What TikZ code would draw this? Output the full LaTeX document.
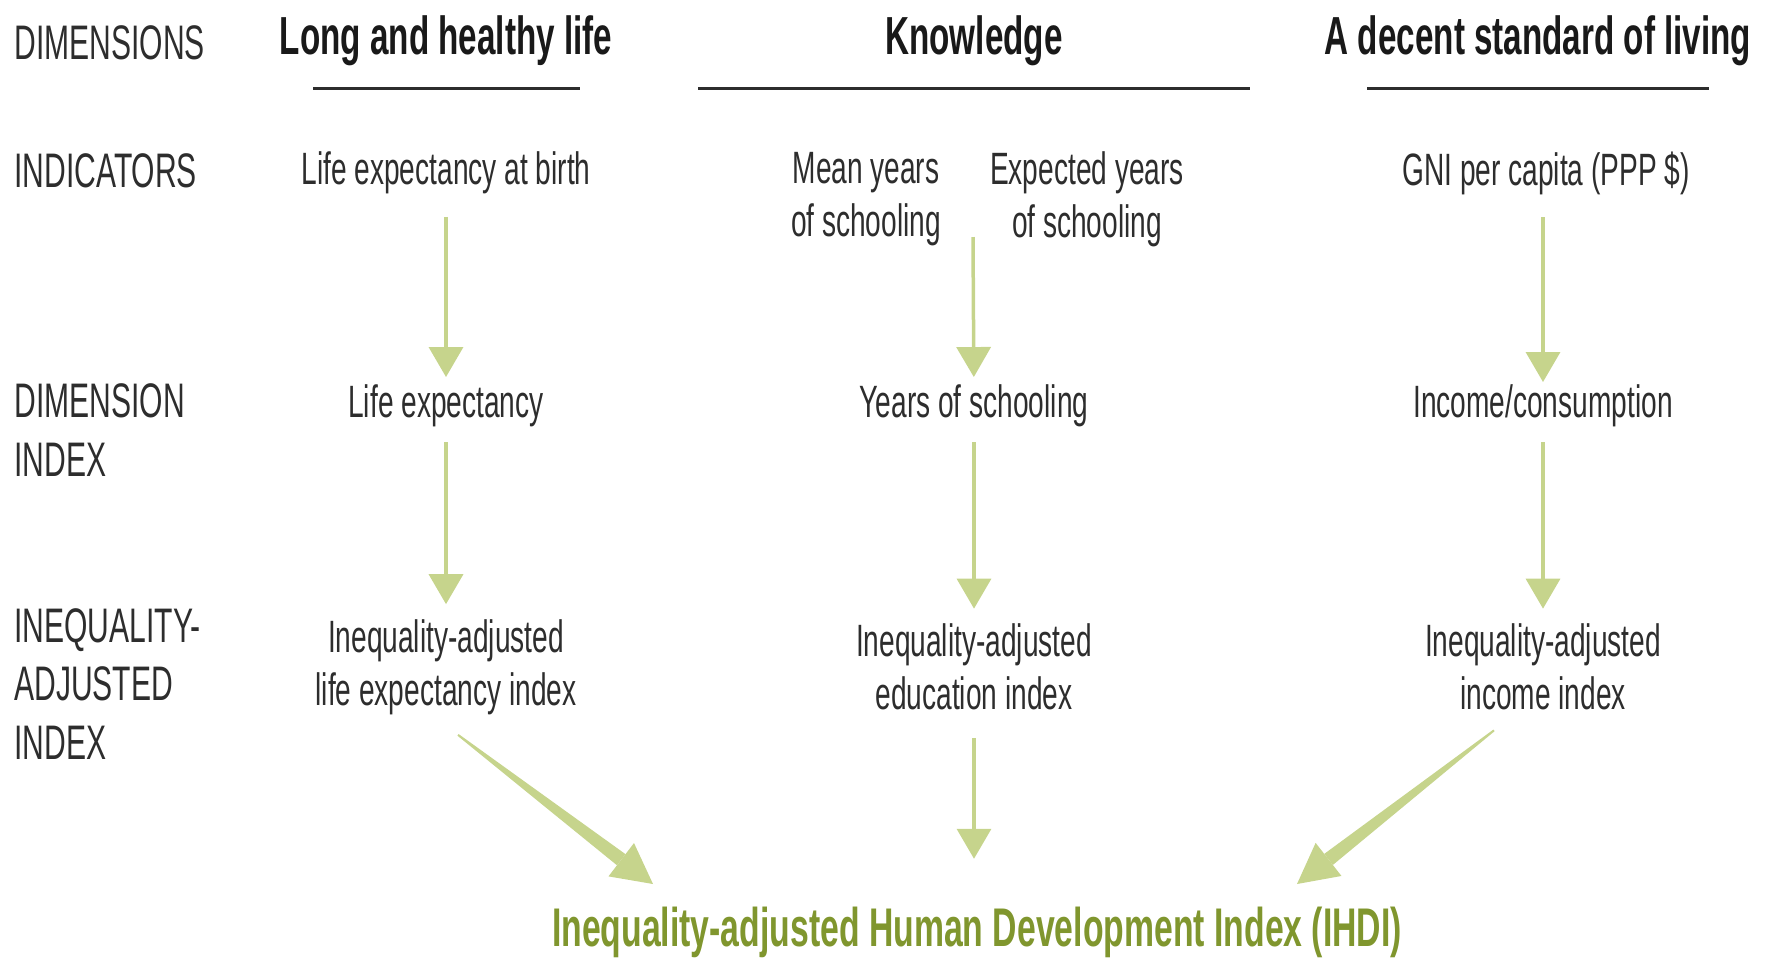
\documentclass[tikz,border=0pt]{standalone}
\usepackage{fontspec}
\setmainfont{Liberation Sans}[FakeStretch=0.62]
\usetikzlibrary{arrows.meta, positioning, calc}
\definecolor{leaf}{RGB}{198,212,140}
\definecolor{olive}{RGB}{128,150,46}
\definecolor{ink}{RGB}{45,45,45}

% tapered arrow: thin at the start, wide shaft and head at the tip
\newcommand\taperarrow[2]{%
  \coordinate (hb) at ($(#2)!0.8cm!(#1)$);
  \fill[leaf] ($(#1)!0.02cm!90:(hb)$) -- ($(#1)!0.02cm!-90:(hb)$)
    -- ($(hb)!0.14cm!90:(#1)$) -- ($(hb)!0.14cm!-90:(#1)$) -- cycle;
  \fill[leaf] ($(hb)!0.42cm!90:(#2)$) -- (#2) -- ($(hb)!0.42cm!-90:(#2)$) -- cycle;
}

\begin{document}
\begin{tikzpicture}[x=0.02cm, y=-0.02cm,
  lbl/.style={anchor=west, align=left, text=ink, inner sep=0pt, font=\fontsize{27.6}{33.5}\selectfont},
  dim/.style={text=black!90, inner sep=0pt, font=\bfseries\fontsize{30.5}{35}\selectfont},
  txt/.style={text=ink, align=center, inner sep=0pt, font=\fontsize{25.8}{30}\selectfont},
  arr/.style={leaf, line width=0.07cm, -{Triangle[width=0.68cm,length=0.6cm]}},
  rule/.style={ink, line width=0.06cm}]
\useasboundingbox (0,0) rectangle (1772,958);

% row labels
\node[lbl] (ldim) at (14,43) {DIMENSIONS};
\node[lbl] (lind) at (14,171) {INDICATORS};
\node[lbl] (ldix) at (14,430) {DIMENSION\\INDEX};
\node[lbl] (liai) at (14,684) {INEQUALITY-\\ADJUSTED\\INDEX};

% dimensions
\node[dim] (life) at (446,41) {Long and healthy life};
\node[dim] (know) at (974,41) {Knowledge};
\node[dim] (living) at (1538,41) {A decent standard of living};
\draw[rule] (313,88) -- (580,88);
\draw[rule] (698,88) -- (1250,88);
\draw[rule] (1367,88) -- (1709,88);

% indicators
\node[txt] (ile) at (446,173) {Life expectancy at birth};
\node[txt] (imys) at (866,199) {Mean years\\of schooling};
\node[txt] (ieys) at (1087,199) {Expected years\\of schooling};
\node[txt] (ignI) at (1546,173) {GNI per capita (PPP \$)};
\coordinate (kmid) at (973,237);

% dimension indices
\node[txt] (dle) at (446,406) {Life expectancy};
\node[txt] (dys) at (974,406) {Years of schooling};
\node[txt] (dinc) at (1543,406) {Income/consumption};

% inequality-adjusted indices
\node[txt] (qle) at (446,667) {Inequality-adjusted\\life expectancy index};
\node[txt] (qed) at (974,667) {Inequality-adjusted\\education index};
\node[txt] (qinc) at (1543,667) {Inequality-adjusted\\income index};

% composite index
\node[text=olive, inner sep=0pt, font=\bfseries\fontsize{31}{36}\selectfont] (ihdi) at (977,932)
  {Inequality-adjusted Human Development Index (IHDI)};
\coordinate (ihdiL) at (653,884);
\coordinate (ihdiR) at (1297,884);
\coordinate (qleS) at ($(qle.south)+(12,20)$);
\coordinate (qincS) at ($(qinc.south)+(-49,20)$);

\draw[arr, shorten <=0.45cm, shorten >=0.15cm] (ile) -- (dle);
\draw[arr, shorten >=0.15cm] (kmid) -- (dys);
\draw[arr, shorten <=0.45cm, shorten >=0.05cm] (ignI.south -| dinc) -- (dinc);
\draw[arr, shorten <=0.3cm, shorten >=0.3cm] (dle) -- (qle);
\draw[arr, shorten <=0.3cm, shorten >=0.3cm] (dys) -- (qed);
\draw[arr, shorten <=0.3cm, shorten >=0.3cm] (dinc) -- (qinc);
\draw[arr, shorten <=0.55cm, shorten >=0.95cm] (qed) -- (ihdi.north -| qed);
\taperarrow{qleS}{ihdiL}
\taperarrow{qincS}{ihdiR}
\end{tikzpicture}
\end{document}
